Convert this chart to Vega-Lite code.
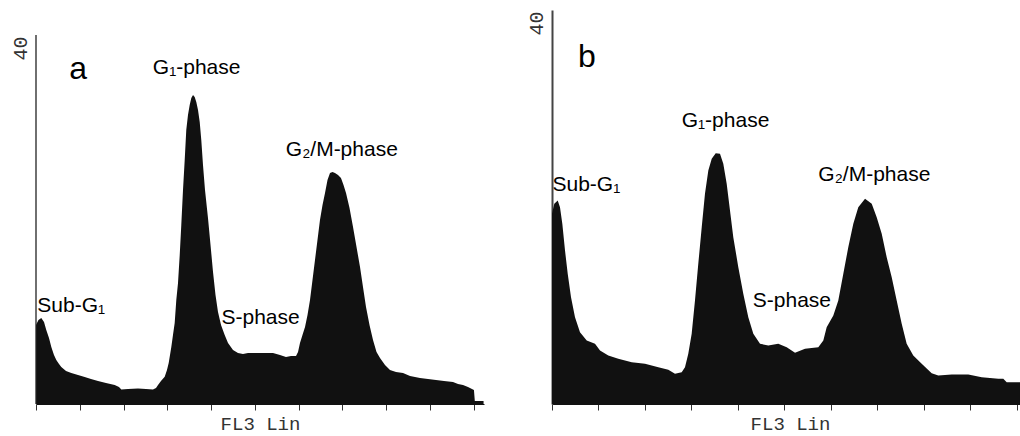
{
  "$schema": "https://vega.github.io/schema/vega-lite/v6.json",
  "background": "white",
  "padding": {"left": 10, "top": 10, "right": 0, "bottom": 0},
  "spacing": 42,
  "config": {"view": {"stroke": null}, "font": "Arial"},
  "datasets": {
    "a": [
      {"ch":0,"n":8.56},{"ch":5.7,"n":9.11},{"ch":12.1,"n":9.32},{"ch":18.3,"n":8.89},{"ch":23.5,"n":8.02},{"ch":29.7,"n":7.15},{"ch":35,"n":6.18},{"ch":41.1,"n":5.31},{"ch":46.4,"n":4.77},{"ch":52.6,"n":4.34},{"ch":57.8,"n":4.01},{"ch":68.6,"n":3.58},{"ch":80.7,"n":3.36},{"ch":96,"n":3.14},{"ch":111.3,"n":2.93},{"ch":125.7,"n":2.71},{"ch":141.7,"n":2.49},{"ch":160,"n":2.28},{"ch":179.9,"n":2.06},{"ch":189.7,"n":1.84},{"ch":195,"n":1.57},{"ch":210.3,"n":1.63},{"ch":233.1,"n":1.68},{"ch":251.4,"n":1.63},{"ch":267.4,"n":1.57},{"ch":274.3,"n":1.73},{"ch":278.9,"n":2.06},{"ch":285.7,"n":2.49},{"ch":294.2,"n":2.96},{"ch":299.4,"n":3.69},{"ch":303.3,"n":4.44},{"ch":306.3,"n":5.31},{"ch":309.3,"n":6.18},{"ch":313.1,"n":7.48},{"ch":317,"n":8.78},{"ch":320.7,"n":11.27},{"ch":324.6,"n":13.12},{"ch":328.5,"n":16.15},{"ch":332.1,"n":19.4},{"ch":336,"n":23.2},{"ch":339.9,"n":26.45},{"ch":343.5,"n":29.7},{"ch":347.4,"n":31.33},{"ch":351.3,"n":32.41},{"ch":355,"n":33.17},{"ch":358.9,"n":33.5},{"ch":362.7,"n":33.28},{"ch":366.4,"n":32.74},{"ch":370.3,"n":31.87},{"ch":374.2,"n":30.57},{"ch":377.8,"n":28.62},{"ch":381.7,"n":25.91},{"ch":386.3,"n":23.2},{"ch":393.1,"n":20.16},{"ch":398.9,"n":17.24},{"ch":404.6,"n":14.31},{"ch":410.3,"n":11.82},{"ch":416,"n":9.97},{"ch":422.9,"n":8.56},{"ch":431.3,"n":7.48},{"ch":438.9,"n":6.61},{"ch":450.3,"n":5.85},{"ch":461.7,"n":5.53},{"ch":473.1,"n":5.42},{"ch":484.6,"n":5.53},{"ch":496,"n":5.53},{"ch":507.4,"n":5.53},{"ch":523.4,"n":5.53},{"ch":541.7,"n":5.53},{"ch":557.7,"n":5.31},{"ch":571.4,"n":5.09},{"ch":582.9,"n":5.2},{"ch":594.3,"n":5.2},{"ch":598.9,"n":5.64},{"ch":603.4,"n":6.61},{"ch":609.1,"n":7.48},{"ch":614.9,"n":8.35},{"ch":620.6,"n":9.65},{"ch":626.3,"n":11.27},{"ch":632,"n":13.44},{"ch":637.7,"n":15.61},{"ch":643.4,"n":17.78},{"ch":649.1,"n":19.95},{"ch":654.9,"n":21.57},{"ch":660.6,"n":22.87},{"ch":666.3,"n":24.28},{"ch":672,"n":25.04},{"ch":677.7,"n":25.15},{"ch":683.4,"n":25.04},{"ch":690.3,"n":24.82},{"ch":697.1,"n":24.5},{"ch":702.9,"n":23.74},{"ch":708.6,"n":22.87},{"ch":716.6,"n":21.25},{"ch":724.6,"n":19.19},{"ch":732.6,"n":17.02},{"ch":740.6,"n":14.85},{"ch":747.4,"n":12.68},{"ch":754.3,"n":10.51},{"ch":762.3,"n":8.56},{"ch":770.3,"n":6.94},{"ch":778.3,"n":5.64},{"ch":786.3,"n":4.99},{"ch":797.7,"n":4.23},{"ch":809.1,"n":3.69},{"ch":822.9,"n":3.47},{"ch":838.9,"n":3.36},{"ch":854.9,"n":3.04},{"ch":877.7,"n":2.82},{"ch":896,"n":2.71},{"ch":914.3,"n":2.6},{"ch":932.6,"n":2.49},{"ch":953.1,"n":2.38},{"ch":964.6,"n":2.17},{"ch":976,"n":2.06},{"ch":987.4,"n":1.84},{"ch":1001,"n":1.52},{"ch":1003,"n":0.33},{"ch":1023,"n":0.33}
    ],
    "b": [
      {"ch":0,"n":19.31},{"ch":4.9,"n":20.32},{"ch":12.3,"n":20.66},{"ch":17.2,"n":19.98},{"ch":22.2,"n":18.29},{"ch":28,"n":15.58},{"ch":33.8,"n":13.22},{"ch":40.9,"n":10.84},{"ch":49.5,"n":8.81},{"ch":60.2,"n":7.29},{"ch":74.7,"n":6.45},{"ch":92.5,"n":6.11},{"ch":103.3,"n":5.43},{"ch":121.1,"n":4.92},{"ch":142.6,"n":4.59},{"ch":171.5,"n":4.24},{"ch":200.1,"n":4.08},{"ch":228.7,"n":3.74},{"ch":250.2,"n":3.47},{"ch":264.6,"n":3.07},{"ch":279,"n":3.23},{"ch":286.1,"n":3.74},{"ch":293.2,"n":5.1},{"ch":300.5,"n":7.13},{"ch":307.6,"n":10.51},{"ch":314.7,"n":14.23},{"ch":322.1,"n":17.95},{"ch":329.1,"n":21.34},{"ch":336.3,"n":23.7},{"ch":343.6,"n":24.89},{"ch":352.2,"n":25.46},{"ch":361.4,"n":25.4},{"ch":368.5,"n":24.38},{"ch":375.8,"n":22.35},{"ch":382.9,"n":19.64},{"ch":390,"n":16.93},{"ch":400.8,"n":13.89},{"ch":411.5,"n":11.19},{"ch":422.3,"n":8.81},{"ch":433.1,"n":7.13},{"ch":447.5,"n":6.11},{"ch":465.3,"n":5.94},{"ch":486.8,"n":6.11},{"ch":504.9,"n":5.77},{"ch":522.8,"n":5.2},{"ch":544.3,"n":5.6},{"ch":572.9,"n":5.77},{"ch":583.7,"n":6.45},{"ch":590.9,"n":7.8},{"ch":605.2,"n":8.98},{"ch":615.9,"n":10.51},{"ch":626.7,"n":13.22},{"ch":637.4,"n":15.92},{"ch":648.2,"n":18.29},{"ch":658.9,"n":19.98},{"ch":673.4,"n":20.83},{"ch":687.8,"n":20.32},{"ch":698.5,"n":18.96},{"ch":709.3,"n":17.28},{"ch":720,"n":14.9},{"ch":730.8,"n":12.87},{"ch":741.5,"n":10.51},{"ch":752.3,"n":8.14},{"ch":763,"n":6.11},{"ch":777.2,"n":4.92},{"ch":795.3,"n":4.08},{"ch":816.8,"n":3.13},{"ch":831,"n":2.89},{"ch":859.9,"n":2.99},{"ch":895.6,"n":2.99},{"ch":924.4,"n":2.72},{"ch":960.1,"n":2.56},{"ch":970.9,"n":2.56},{"ch":978.2,"n":2.21},{"ch":1007,"n":2.21},{"ch":1023,"n":2.21}
    ],
    "axisA": [{"ch":0,"n":0,"top":40}],
    "labelsA": [
      {"ch":267,"n":35.8,"t":"G₁-phase"},
      {"ch":571,"n":26.9,"t":"G₂/M-phase"},
      {"ch":3,"n":10.0,"t":"Sub-G₁"},
      {"ch":424,"n":8.7,"t":"S-phase"}
    ],
    "letterA": [{"ch":76,"n":35.2,"t":"a"}],
    "labelsB": [
      {"ch":279,"n":28.1,"t":"G₁-phase"},
      {"ch":573,"n":22.6,"t":"G₂/M-phase"},
      {"ch":1,"n":21.6,"t":"Sub-G₁"},
      {"ch":432,"n":9.8,"t":"S-phase"}
    ],
    "letterB": [{"ch":56,"n":34.2,"t":"b"}]
  },
  "hconcat": [
    {
      "width": 448,
      "height": 394,
      "encoding": {
        "x": {"field": "ch", "type": "quantitative", "scale": {"domain": [0, 1024], "nice": false, "zero": false},
          "axis": {"values": [0,100,200,300,400,500,600,700,800,900,1000], "labels": false, "grid": false, "title": "FL3 Lin",
            "titleFont": "Liberation Mono", "titleFontSize": 19, "titleFontWeight": "normal", "titleColor": "#333333", "titlePadding": 4,
            "tickSize": 6, "tickColor": "#333333", "tickWidth": 1, "domainColor": "#111111", "domainWidth": 1}},
        "y": {"field": "n", "type": "quantitative", "scale": {"domain": [0, 42.71], "nice": false},
          "axis": {"values": [40], "domain": false, "ticks": false, "grid": false, "title": null, "labelAngle": -90, "labelAlign": "center",
            "labelBaseline": "alphabetic", "labelFont": "Liberation Mono", "labelFontSize": 20, "labelColor": "#333333",
            "labelPadding": 10, "labelOffset": 13, "labelFlush": false}}
      },
      "layer": [
        {"data": {"name": "a"}, "mark": {"type": "area", "color": "#111111", "interpolate": "linear"}},
        {"data": {"name": "axisA"}, "mark": {"type": "rule", "color": "#222222", "strokeWidth": 1.3},
          "encoding": {"y2": {"field": "top"}}},
        {"data": {"name": "labelsA"}, "mark": {"type": "text", "align": "left", "baseline": "alphabetic", "fontSize": 21, "font": "Arial", "color": "black"},
          "encoding": {"text": {"field": "t"}}},
        {"data": {"name": "letterA"}, "mark": {"type": "text", "align": "left", "baseline": "alphabetic", "fontSize": 32, "font": "Arial", "color": "black"},
          "encoding": {"text": {"field": "t"}}}
      ]
    },
    {
      "width": 476,
      "height": 394,
      "encoding": {
        "x": {"field": "ch", "type": "quantitative", "scale": {"domain": [0, 1024], "nice": false, "zero": false},
          "axis": {"values": [0,100,200,300,400,500,600,700,800,900,1000], "labels": false, "grid": false, "title": "FL3 Lin",
            "titleFont": "Liberation Mono", "titleFontSize": 19, "titleFontWeight": "normal", "titleColor": "#333333", "titlePadding": 4,
            "tickSize": 6, "tickColor": "#333333", "tickWidth": 1, "domainColor": "#111111", "domainWidth": 1}},
        "y": {"field": "n", "type": "quantitative", "scale": {"domain": [0, 40], "nice": false},
          "axis": {"values": [40], "domain": true, "domainColor": "#444444", "domainWidth": 2, "ticks": false, "grid": false, "title": null, "labelAngle": -90, "labelAlign": "center",
            "labelBaseline": "alphabetic", "labelFont": "Liberation Mono", "labelFontSize": 20, "labelColor": "#333333",
            "labelPadding": 10, "labelOffset": 13, "labelFlush": false}}
      },
      "layer": [
        {"data": {"name": "b"}, "mark": {"type": "area", "color": "#111111", "interpolate": "linear"}},
        {"data": {"name": "labelsB"}, "mark": {"type": "text", "align": "left", "baseline": "alphabetic", "fontSize": 21, "font": "Arial", "color": "black"},
          "encoding": {"text": {"field": "t"}}},
        {"data": {"name": "letterB"}, "mark": {"type": "text", "align": "left", "baseline": "alphabetic", "fontSize": 32, "font": "Arial", "color": "black"},
          "encoding": {"text": {"field": "t"}}}
      ]
    }
  ]
}
